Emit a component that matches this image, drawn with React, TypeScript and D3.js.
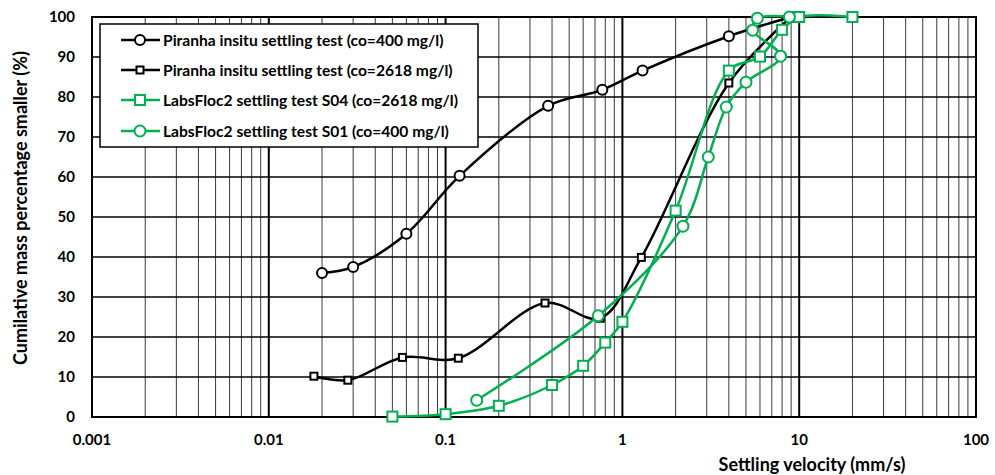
import React from 'react';
import * as d3 from 'd3';

const W = 995;
const H = 475;
const PLOT = { left: 92, right: 976, top: 17, bottom: 417 };

// Data
const piranha400X = [0.02, 0.03, 0.06, 0.12, 0.38, 0.77, 1.3, 4.0, 9.0];
const piranha400Y = [36, 37.5, 45.8, 60.3, 77.8, 81.8, 86.6, 95.2, 100];
const piranha2618X = [0.018, 0.028, 0.057, 0.118, 0.365, 0.75, 1.28, 4.0, 9.0];
const piranha2618Y = [10.2, 9.2, 14.9, 14.7, 28.5, 24.7, 39.9, 83.5, 100];
const s04X = [0.05, 0.1, 0.2, 0.4, 0.6, 0.8, 1.0, 2.0, 4.0, 6.0, 8.0, 10, 20];
const s04Y = [0.1, 0.7, 2.8, 8, 12.8, 18.6, 23.8, 51.6, 86.6, 90.1, 96.8, 100, 100];
const s01X = [0.15, 0.73, 2.2, 3.06, 3.87, 5.0, 7.85, 5.45, 5.8, 8.8];
const s01Y = [4.2, 25.3, 47.7, 65, 77.5, 83.7, 90.2, 96.7, 99.7, 100];

const xTickValues = [0.001, 0.01, 0.1, 1, 10, 100];
const xTickLabels = ['0.001', '0.01', '0.1', '1', '10', '100'];
const yTickValues = [0, 10, 20, 30, 40, 50, 60, 70, 80, 90, 100];

const seriesNames = [
  'Piranha insitu settling test (co=400 mg/l)',
  'Piranha insitu settling test (co=2618 mg/l)',
  'LabsFloc2 settling test S04 (co=2618 mg/l)',
  'LabsFloc2 settling test S01 (co=400 mg/l)',
];

const BLACK = '#000000';
const GREEN = '#00B050';
const FONT = 'Lato, "Open Sans", sans-serif';

type Series = { name: string; xs: number[]; ys: number[]; color: string; marker: 'circle' | 'square'; size: number };

const series: Series[] = [
  { name: seriesNames[0], xs: piranha400X, ys: piranha400Y, color: BLACK, marker: 'circle', size: 5 },
  { name: seriesNames[1], xs: piranha2618X, ys: piranha2618Y, color: BLACK, marker: 'square', size: 7 },
  { name: seriesNames[2], xs: s04X, ys: s04Y, color: GREEN, marker: 'square', size: 10 },
  { name: seriesNames[3], xs: s01X, ys: s01Y, color: GREEN, marker: 'circle', size: 5.5 },
];

function Marker({ kind, x, y, size, color }: { kind: 'circle' | 'square'; x: number; y: number; size: number; color: string }) {
  if (kind === 'circle') {
    return <circle cx={x} cy={y} r={size} fill="#fff" stroke={color} strokeWidth={2} />;
  }
  return <rect x={x - size / 2} y={y - size / 2} width={size} height={size} fill="#fff" stroke={color} strokeWidth={2} />;
}

export default function App() {
  const x = d3.scaleLog().domain([0.001, 100]).range([PLOT.left, PLOT.right]);
  const y = d3.scaleLinear().domain([0, 100]).range([PLOT.bottom, PLOT.top]);

  const minorVals: number[] = [];
  for (let e = -3; e < 2; e++) {
    for (let k = 2; k <= 9; k++) minorVals.push(k * Math.pow(10, e));
  }

  const line = d3
    .line<[number, number]>()
    .x((d) => x(d[0]))
    .y((d) => y(d[1]))
    .curve(d3.curveCatmullRom.alpha(0.5));

  const legend = { x: 100, y: 24, w: 378, h: 123 };
  const legendRows = [40, 70, 100, 131];

  return (
    <svg width={W} height={H} style={{ position: 'absolute', left: 0, top: 0, background: '#fff' }} fontFamily={FONT}>
      <rect x={0} y={0} width={W} height={H} fill="#fff" />
      {/* minor vertical grid */}
      {minorVals.map((v, i) => (
        <line key={'m' + i} x1={x(v)} x2={x(v)} y1={PLOT.top} y2={PLOT.bottom} stroke="#3a3a3a" strokeWidth={1} />
      ))}
      {/* horizontal grid */}
      {yTickValues.map((v) => (
        <line key={'h' + v} x1={PLOT.left} x2={PLOT.right} y1={y(v)} y2={y(v)} stroke="#000" strokeWidth={1.4} />
      ))}
      {/* major vertical grid */}
      {xTickValues.map((v) => (
        <line key={'M' + v} x1={x(v)} x2={x(v)} y1={PLOT.top} y2={PLOT.bottom} stroke="#000" strokeWidth={2} />
      ))}
      {/* plot border */}
      <rect x={PLOT.left} y={PLOT.top} width={PLOT.right - PLOT.left} height={PLOT.bottom - PLOT.top} fill="none" stroke="#000" strokeWidth={2} />

      {/* series */}
      {series.map((s, si) => {
        const pts = s.xs.map((v, i) => [v, s.ys[i]] as [number, number]);
        return (
          <g key={'s' + si}>
            <path d={line(pts) || ''} fill="none" stroke={s.color} strokeWidth={2.5} />
            {pts.map((p, i) => (
              <Marker key={i} kind={s.marker} x={x(p[0])} y={y(p[1])} size={s.size} color={s.color} />
            ))}
          </g>
        );
      })}

      {/* y tick labels */}
      {yTickValues.map((v) => (
        <text key={'yt' + v} x={75} y={y(v)} dy="0.36em" textAnchor="end" fontSize={15} fontWeight="bold" fill="#000">
          {v}
        </text>
      ))}
      {/* x tick labels */}
      {xTickValues.map((v, i) => (
        <text key={'xt' + v} x={x(v)} y={445} textAnchor="middle" fontSize={15} fontWeight="bold" fill="#000">
          {xTickLabels[i]}
        </text>
      ))}

      {/* axis titles */}
      <text x={812} y={471} textAnchor="middle" fontSize={18} fontWeight="bold" fill="#000">
        Settling velocity (mm/s)
      </text>
      <text transform={`translate(27,208) rotate(-90)`} textAnchor="middle" fontSize={18} fontWeight="bold" fill="#000">
        Cumilative mass percentage smaller (%)
      </text>

      {/* legend */}
      <rect x={legend.x} y={legend.y} width={legend.w} height={legend.h} fill="#fff" stroke="#000" strokeWidth={1.5} />
      {series.map((s, i) => (
        <g key={'lg' + i}>
          <line x1={121} x2={160} y1={legendRows[i]} y2={legendRows[i]} stroke={s.color} strokeWidth={2.5} />
          <Marker kind={s.marker} x={140} y={legendRows[i]} size={s.size} color={s.color} />
          <text x={163} y={legendRows[i]} dy="0.36em" fontSize={15.6} fontWeight="bold" fill="#000">
            {s.name}
          </text>
        </g>
      ))}
    </svg>
  );
}
